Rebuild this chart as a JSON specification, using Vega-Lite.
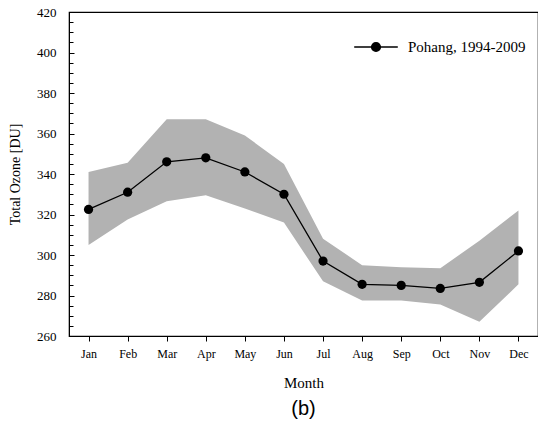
{
  "$schema": "https://vega.github.io/schema/vega-lite/v6.json",
  "width": 469,
  "height": 324,
  "autosize": "none",
  "padding": {"left": 69, "top": 12, "right": 0, "bottom": 92},
  "background": "white",
  "config": {
    "view": {"stroke": "black", "strokeWidth": 1.2},
    "font": "Liberation Serif"
  },
  "title": {
    "text": "(b)",
    "orient": "bottom",
    "anchor": "middle",
    "font": "Liberation Sans",
    "fontSize": 20,
    "fontWeight": "normal",
    "color": "black",
    "offset": 9
  },
  "data": {
    "values": [
      {"month": "Jan", "mean": 322.5, "lower": 305, "upper": 341},
      {"month": "Feb", "mean": 331, "lower": 317.5, "upper": 345.5},
      {"month": "Mar", "mean": 346, "lower": 326.5, "upper": 367},
      {"month": "Apr", "mean": 348, "lower": 329.5, "upper": 367},
      {"month": "May", "mean": 341, "lower": 323, "upper": 359},
      {"month": "Jun", "mean": 330, "lower": 316, "upper": 345},
      {"month": "Jul", "mean": 297, "lower": 287, "upper": 308},
      {"month": "Aug", "mean": 285.5, "lower": 277.5, "upper": 295},
      {"month": "Sep", "mean": 285, "lower": 277.5, "upper": 294},
      {"month": "Oct", "mean": 283.5, "lower": 275.5, "upper": 293.5},
      {"month": "Nov", "mean": 286.5, "lower": 267, "upper": 307},
      {"month": "Dec", "mean": 302, "lower": 285.5, "upper": 322}
    ]
  },
  "resolve": {"axis": {"y": "independent"}},
  "layer": [
    {
      "mark": {"type": "area", "color": "#b2b2b2", "opacity": 1},
      "encoding": {
        "x": {
          "field": "month", "type": "ordinal", "sort": null,
          "scale": {"type": "point", "padding": 0.5},
          "axis": {
            "title": "Month", "titleFont": "Liberation Serif", "titleFontSize": 15, "titleFontWeight": "normal", "titleColor": "black", "titlePadding": 16,
            "labelAngle": 0, "labelFont": "Liberation Serif", "labelFontSize": 12, "labelColor": "black", "labelPadding": 7,
            "tickSize": 5, "tickColor": "black", "domainColor": "black", "grid": false
          }
        },
        "y": {
          "field": "lower", "type": "quantitative",
          "scale": {"domain": [260, 420], "nice": false, "zero": false},
          "axis": {
            "orient": "left", "values": [260,265,270,275,280,285,290,295,300,305,310,315,320,325,330,335,340,345,350,355,360,365,370,375,380,385,390,395,400,405,410,415,420],
            "labels": false, "title": null, "grid": false, "domain": false,
            "tickSize": -4, "tickColor": "black"
          }
        },
        "y2": {"field": "upper"}
      }
    },
    {
      "mark": {"type": "line", "strokeWidth": 1.3, "point": {"filled": true, "size": 85, "opacity": 1}},
      "encoding": {
        "x": {"field": "month", "type": "ordinal", "sort": null},
        "y": {
          "field": "mean", "type": "quantitative",
          "scale": {"domain": [260, 420], "nice": false, "zero": false},
          "axis": {
            "orient": "left", "values": [260,280,300,320,340,360,380,400,420],
            "title": "Total Ozone [DU]", "titleFont": "Liberation Serif", "titleFontSize": 14, "titleFontWeight": "normal", "titleColor": "black", "titlePadding": 14,
            "labelFont": "Liberation Serif", "labelFontSize": 13, "labelColor": "black", "labelPadding": 18,
            "grid": false, "tickSize": -5, "tickColor": "black", "domainColor": "black"
          }
        },
        "color": {
          "datum": "Pohang, 1994-2009",
          "scale": {"range": ["black"]},
          "legend": {
            "title": null, "orient": "top-right", "offset": 12,
            "labelFont": "Liberation Serif", "labelFontSize": 15, "labelColor": "black",
            "symbolType": "M-1,0H1M-0.2,0a0.2,0.2 0 1,0 0.4,0a0.2,0.2 0 1,0 -0.4,0",
            "symbolSize": 1900, "symbolStrokeWidth": 1.5, "symbolStrokeColor": "black", "symbolFillColor": "black", "labelOffset": 9
          }
        }
      }
    }
  ]
}
